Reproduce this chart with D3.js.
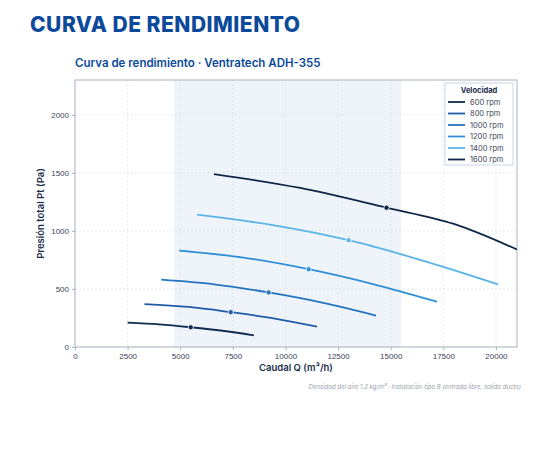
<!DOCTYPE html><html><head><meta charset="utf-8"><script src="https://cdn.jsdelivr.net/npm/d3@7"></script>
<style>body{margin:0;background:#fff;font-family:Inter,"Noto Sans",sans-serif}</style></head><body><svg id="c" width="540" height="460"></svg><script>
const speeds=["600 rpm","800 rpm","1000 rpm","1200 rpm","1400 rpm","1600 rpm"];
const colors=["#0f2b4f","#1f5ca6","#2474c0","#2e8fd6","#5ab4e5","#0e2746"];
const flows=[[2500,4000,5500,7000,8500],[3300,5400,7400,9500,11500],[4100,6600,9200,11800,14300],[4950,8000,11100,14200,17200],[5800,9400,13000,16600,20100],[6600,10700,14800,18000,21000]];
const pressures=[[210,195,170,140,100],[370,345,300,245,175],[580,540,470,380,270],[830,770,670,540,390],[1140,1050,920,740,540],[1490,1370,1200,1060,840]];
const markerIdx=2;
const xTicks=[0,2500,5000,7500,10000,12500,15000,17500,20000];
const yTicks=[0,500,1000,1500,2000];
const band=[4700,15500];
const svg=d3.select("#c");
const L=75,R=517,T=80,B=347;
const x=d3.scaleLinear().domain([0,21000]).range([L,R]);
const y=d3.scaleLinear().domain([0,2300]).range([B,T]);
svg.append("text").attr("x",30).attr("y",32).text("CURVA DE RENDIMIENTO").attr("fill","#0b4a9a").attr("font-size",21).attr("font-weight",800).attr("letter-spacing",0.5);
svg.append("text").attr("x",75).attr("y",67).text("Curva de rendimiento  ·  Ventratech ADH-355").attr("fill","#0b4a9a").attr("font-size",11.5).attr("font-weight",600);
svg.append("rect").attr("x",x(band[0])).attr("y",T).attr("width",x(band[1])-x(band[0])).attr("height",B-T).attr("fill","#eef4fa");
const g=svg.append("g");
xTicks.forEach(t=>g.append("line").attr("x1",x(t)).attr("x2",x(t)).attr("y1",T).attr("y2",B).attr("stroke","#d5dbe3").attr("stroke-dasharray","2,2").attr("stroke-width",0.6));
yTicks.forEach(t=>g.append("line").attr("x1",L).attr("x2",R).attr("y1",y(t)).attr("y2",y(t)).attr("stroke","#d5dbe3").attr("stroke-dasharray","2,2").attr("stroke-width",0.6));
svg.append("rect").attr("x",L).attr("y",T).attr("width",R-L).attr("height",B-T).attr("fill","none").attr("stroke","#aab3c0").attr("stroke-width",1);
const xa=svg.append("g").attr("transform",`translate(0,${B})`).call(d3.axisBottom(x).tickValues(xTicks).tickFormat(d3.format("d")).tickSize(3));
const ya=svg.append("g").attr("transform",`translate(${L},0)`).call(d3.axisLeft(y).tickValues(yTicks).tickFormat(d3.format("d")).tickSize(3));
[xa,ya].forEach(a=>{a.select(".domain").remove();a.selectAll("line").attr("stroke","#aab3c0");a.selectAll("text").attr("fill","#3a4556").attr("font-size",8);});
svg.append("text").attr("x",(L+R)/2).attr("y",371).attr("text-anchor","middle").text("Caudal Q (m³/h)").attr("fill","#1a2d4a").attr("font-size",9.5).attr("font-weight",600);
svg.append("text").attr("transform",`translate(44,${(T+B)/2}) rotate(-90)`).attr("text-anchor","middle").text("Presión total Pt (Pa)").attr("fill","#1a2d4a").attr("font-size",9.5).attr("font-weight",600);
const line=d3.line().x(d=>x(d[0])).y(d=>y(d[1])).curve(d3.curveMonotoneX);
const cg=svg.append("g").attr("clip-path","url(#cp)");
svg.append("clipPath").attr("id","cp").append("rect").attr("x",L).attr("y",T).attr("width",R-L).attr("height",B-T);
speeds.forEach((s,i)=>{
 const pts=flows[i].map((f,j)=>[f,pressures[i][j]]);
 cg.append("path").attr("d",line(pts)).attr("fill","none").attr("stroke",colors[i]).attr("stroke-width",1.8);
 cg.append("circle").attr("cx",x(flows[i][markerIdx])).attr("cy",y(pressures[i][markerIdx])).attr("r",2.6).attr("fill",colors[i]).attr("stroke","#fff").attr("stroke-width",0.8);
});
const lg=svg.append("g").attr("transform","translate(445,83)");
lg.append("rect").attr("width",68).attr("height",82).attr("fill","#fff").attr("stroke","#c9d6e6");
lg.append("text").attr("x",34).attr("y",10).attr("text-anchor","middle").text("Velocidad").attr("font-size",7.5).attr("font-weight",700).attr("fill","#1a2d4a");
speeds.forEach((s,i)=>{const yy=19+i*11.5;
 lg.append("line").attr("x1",3).attr("x2",20).attr("y1",yy).attr("y2",yy).attr("stroke",colors[i]).attr("stroke-width",1.8);
 lg.append("text").attr("x",25).attr("y",yy+2.8).text(s).attr("font-size",7.5).attr("fill","#3a4556");});
svg.append("text").attr("x",R+4).attr("y",389).attr("text-anchor","end").text("Densidad del aire 1.2 kg/m³  ·  Instalación tipo B (entrada libre, salida ducto)").attr("font-size",6).attr("font-style","italic").attr("fill","#9aa3ae");
</script></body></html>
